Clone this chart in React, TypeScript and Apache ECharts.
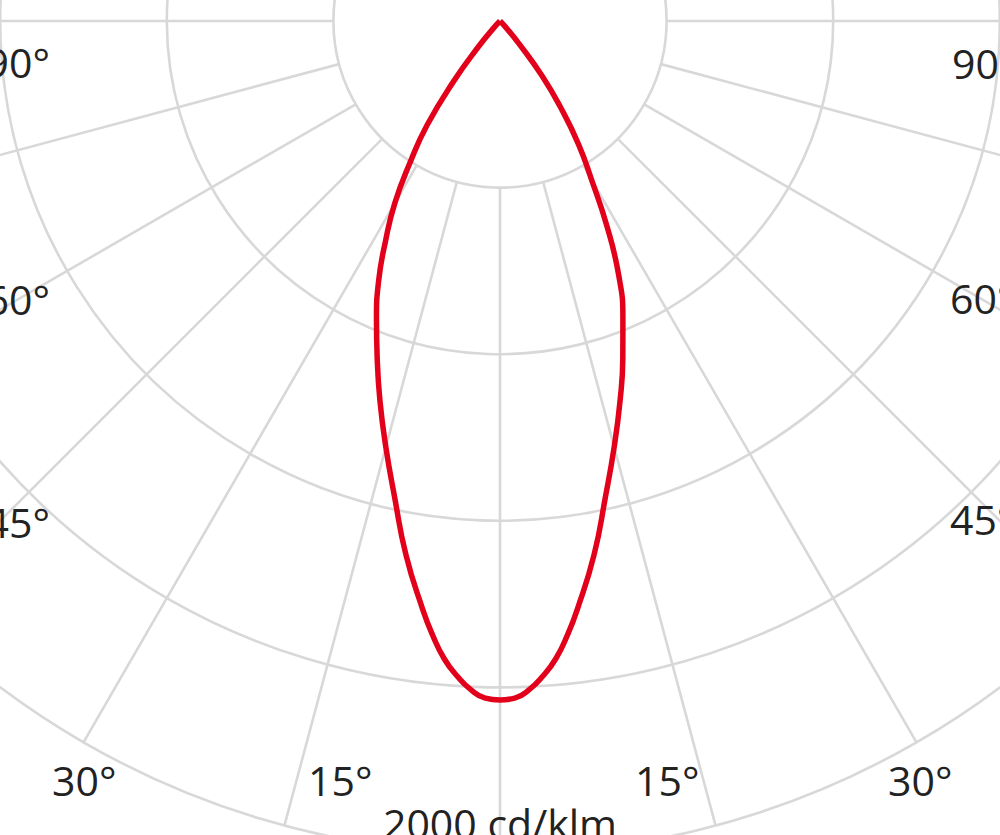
import React, { useEffect, useRef } from "react";
import * as echarts from "echarts";

// Polar angles (degrees from nadir)
const angles = [0, 1.25, 2.5, 3.75, 5, 6.25, 7.5, 10, 12.5, 15, 17.5, 20, 22.5, 25, 27.5, 30, 32.5, 35, 37.5, 40, 42.5, 45];
// Luminous intensity, cd/klm, C0 (right half)
const intensityRight = [1630, 1626, 1607, 1576, 1537, 1484, 1424, 1301, 1170, 1059, 958, 862, 771, 675, 557, 439, 351, 255, 165, 70, 20, 0];
// Luminous intensity, cd/klm, C180 (left half)
const intensityLeft = [1630, 1626, 1607, 1576, 1537, 1484, 1424, 1301, 1170, 1059, 958, 862, 775, 690, 595, 505, 400, 305, 185, 80, 20, 0];

const radiusTicks = [0, 400, 800, 1200, 1600, 2000];
const angleLabels = ["90°", "60°", "45°", "30°", "15°", "15°", "30°", "45°", "60°", "90°"];
const scaleLabel = "2000 cd/klm";

// layout of the angle labels (x, y, horizontal alignment)
const labelLayout: [number, number, string][] = [
  [50, 62, "right"],
  [50, 299, "right"],
  [50, 522, "right"],
  [52, 780, "left"],
  [308, 780, "left"],
  [635, 780, "left"],
  [888, 780, "left"],
  [950, 519, "left"],
  [950, 298, "left"],
  [952, 63, "left"],
];

const GRID = "#d8d8d8";
const RED = "#e2001a";
const FONT = "'Open Sans', 'Liberation Sans', sans-serif";

export default function App() {
  const ref = useRef<HTMLDivElement>(null);
  useEffect(() => {
    if (!ref.current) return;
    const chart = echarts.init(ref.current, undefined, { renderer: "svg" });
    const data: [number, number][] = [];
    for (let i = angles.length - 1; i >= 0; i--) data.push([intensityLeft[i], -angles[i]]);
    for (let i = 1; i < angles.length; i++) data.push([intensityRight[i], angles[i]]);

    const rMax = radiusTicks[radiusTicks.length - 1];
    const rStep = radiusTicks[1] - radiusTicks[0];
    const outer = 833;

    const graphics: any[] = angleLabels.map((t, i) => ({
      type: "text",
      x: labelLayout[i][0],
      y: labelLayout[i][1],
      style: {
        text: t,
        fontSize: 41,
        fontFamily: FONT,
        fill: "#222",
        textAlign: labelLayout[i][2],
        textVerticalAlign: "middle",
      },
      z: 10,
    }));
    graphics.push({
      type: "text",
      x: 500,
      y: 823,
      style: {
        text: scaleLabel,
        fontSize: 41,
        fontFamily: FONT,
        fill: "#222",
        textAlign: "center",
        textVerticalAlign: "middle",
      },
      z: 10,
    });

    chart.setOption({
      animation: false,
      backgroundColor: "#fff",
      polar: [
        { center: [500, 21], radius: [0, outer] },
        { center: [500, 21], radius: [outer / 5, outer] },
      ],
      radiusAxis: [
        {
          polarIndex: 0,
          type: "value",
          min: 0,
          max: rMax,
          interval: rStep,
          axisLine: { show: false },
          axisTick: { show: false },
          axisLabel: { show: false },
          splitLine: { show: true, lineStyle: { color: GRID, width: 2.6 } },
        },
        {
          polarIndex: 1,
          type: "value",
          min: 0,
          max: 1,
          axisLine: { show: false },
          axisTick: { show: false },
          axisLabel: { show: false },
          splitLine: { show: false },
        },
      ],
      angleAxis: [
        {
          polarIndex: 0,
          type: "value",
          min: -180,
          max: 180,
          startAngle: 90,
          clockwise: false,
          axisLine: { show: false },
          axisTick: { show: false },
          axisLabel: { show: false },
          splitLine: { show: false },
        },
        {
          polarIndex: 1,
          type: "value",
          min: -180,
          max: 180,
          interval: 15,
          startAngle: 90,
          clockwise: false,
          axisLine: { show: false },
          axisTick: { show: false },
          axisLabel: { show: false },
          splitLine: { show: true, lineStyle: { color: GRID, width: 2.6 } },
        },
      ],
      series: [
        {
          type: "line",
          coordinateSystem: "polar",
          polarIndex: 0,
          data,
          symbol: "none",
          smooth: 0.5,
          lineStyle: { color: RED, width: 5.5, join: "miter" },
          z: 5,
        },
      ],
      graphic: graphics,
    });
    return () => chart.dispose();
  }, []);
  return (
    <div
      ref={ref}
      style={{ position: "fixed", left: 0, top: 0, width: 1000, height: 835, background: "#fff" }}
    />
  );
}
